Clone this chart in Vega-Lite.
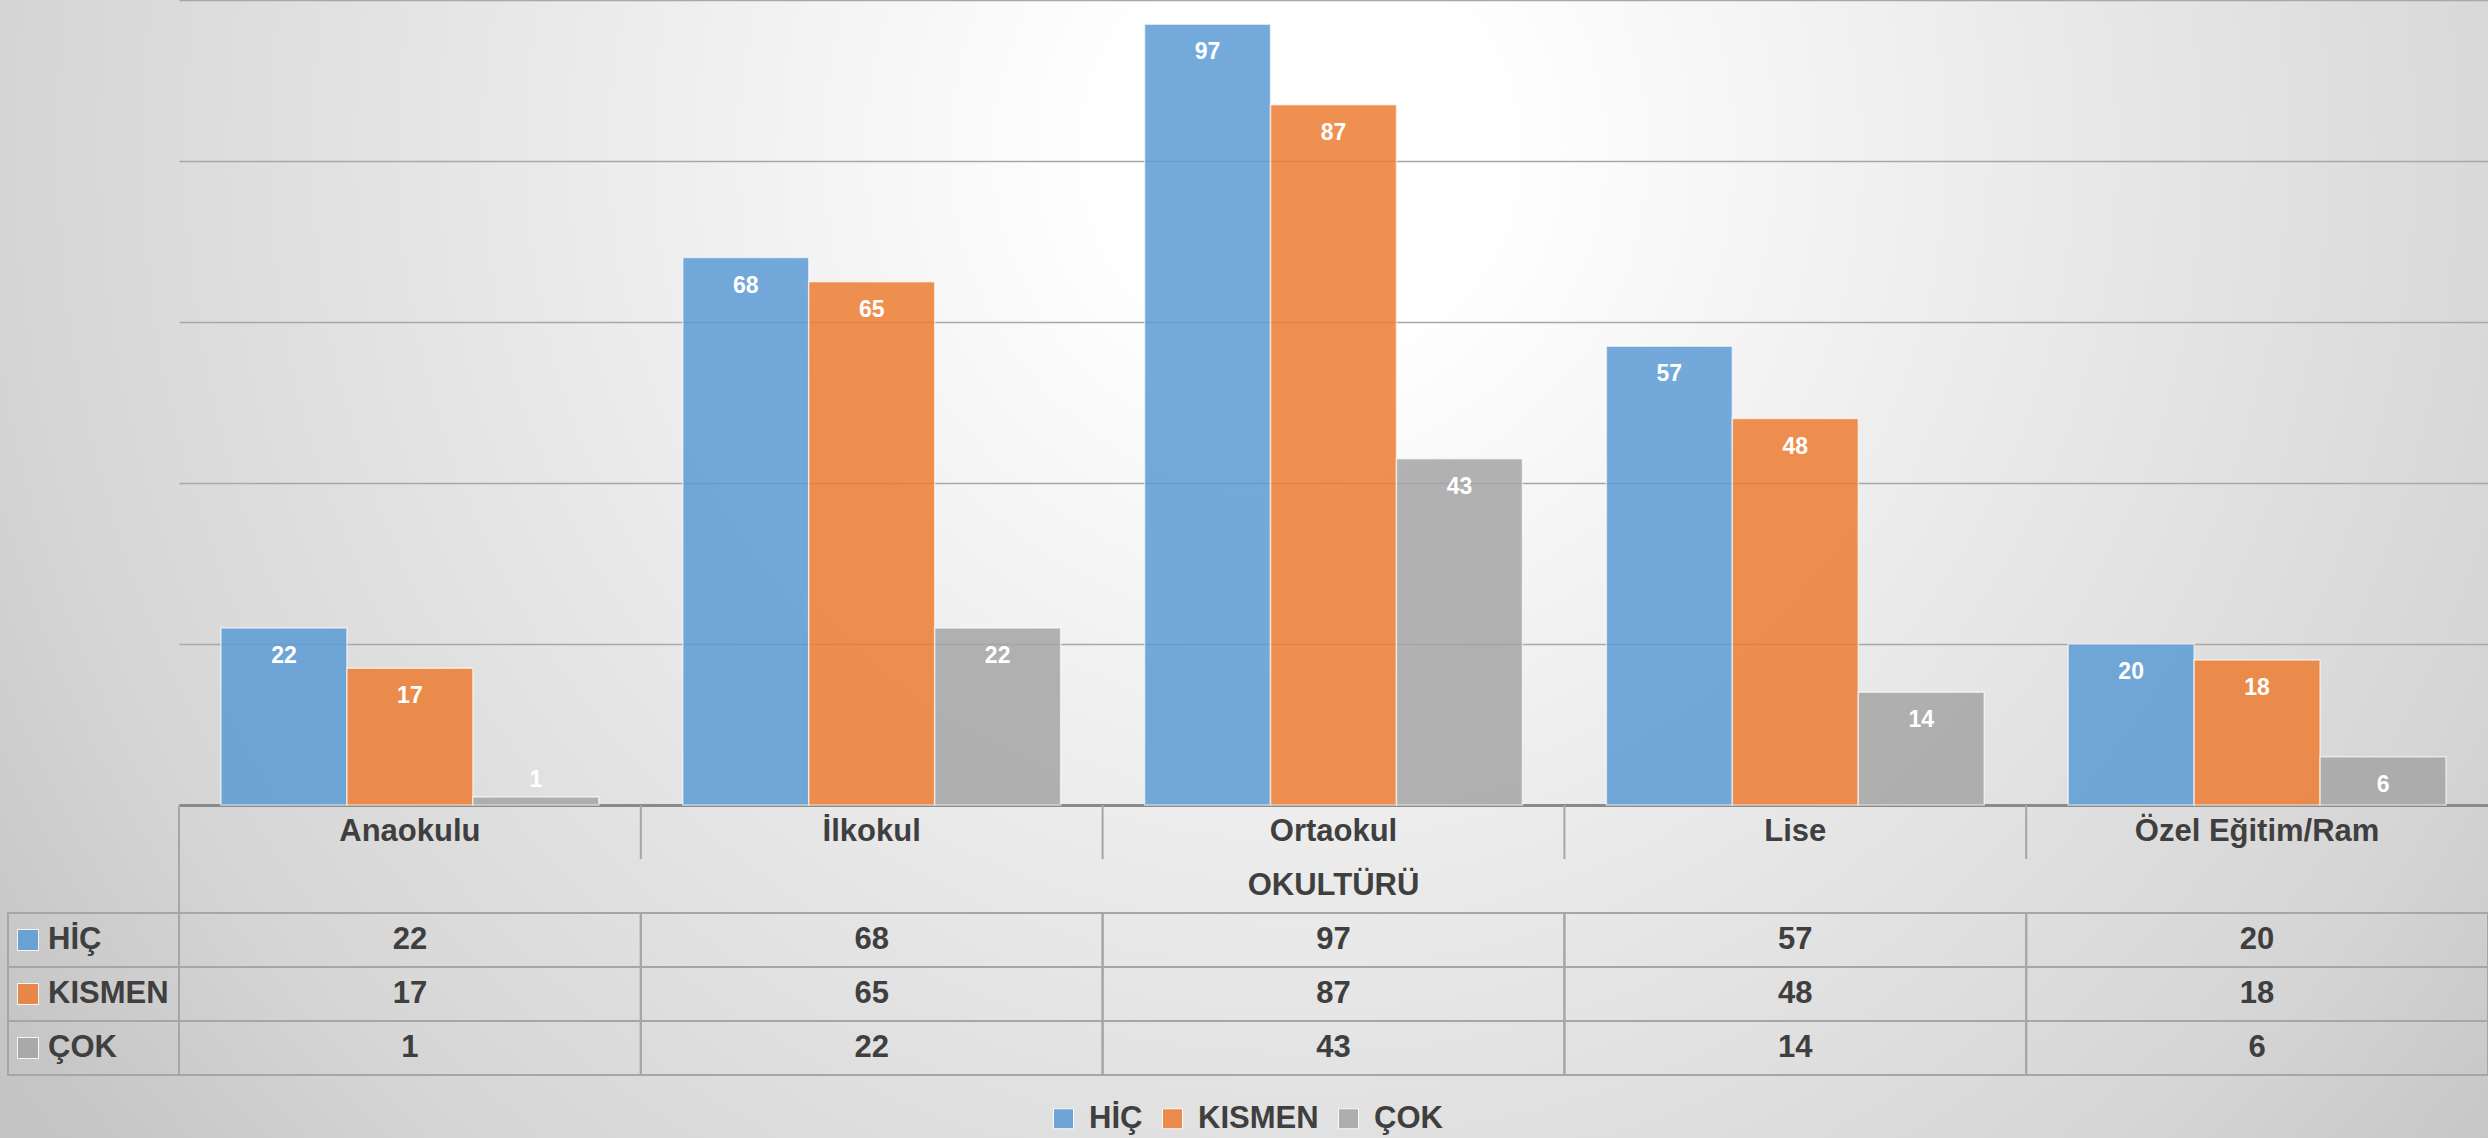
{
  "$schema": "https://vega.github.io/schema/vega-lite/v6.json",
  "width": 2488,
  "height": 1138,
  "padding": 0,
  "autosize": {"type": "none"},
  "background": "#d0d0d0",
  "config": {
    "font": "Liberation Sans",
    "view": {
      "stroke": null,
      "fill": {
        "gradient": "radial",
        "x1": 0.5225, "y1": 0.3316, "r1": 0,
        "x2": 0.5225, "y2": 0.3316, "r2": 0.65,
        "stops": [
          {"offset": 0, "color": "#ffffff"},
          {"offset": 0.12, "color": "#ffffff"},
          {"offset": 0.8, "color": "#d5d5d5"},
          {"offset": 0.96, "color": "#c6c6c6"},
          {"offset": 1, "color": "#c4c4c4"}
        ]
      }
    }
  },
  "datasets": {
    "scores": [
      {"cat": "Anaokulu", "series": "HİÇ", "value": 22},
      {"cat": "Anaokulu", "series": "KISMEN", "value": 17},
      {"cat": "Anaokulu", "series": "ÇOK", "value": 1},
      {"cat": "İlkokul", "series": "HİÇ", "value": 68},
      {"cat": "İlkokul", "series": "KISMEN", "value": 65},
      {"cat": "İlkokul", "series": "ÇOK", "value": 22},
      {"cat": "Ortaokul", "series": "HİÇ", "value": 97},
      {"cat": "Ortaokul", "series": "KISMEN", "value": 87},
      {"cat": "Ortaokul", "series": "ÇOK", "value": 43},
      {"cat": "Lise", "series": "HİÇ", "value": 57},
      {"cat": "Lise", "series": "KISMEN", "value": 48},
      {"cat": "Lise", "series": "ÇOK", "value": 14},
      {"cat": "Özel Eğitim/Ram", "series": "HİÇ", "value": 20},
      {"cat": "Özel Eğitim/Ram", "series": "KISMEN", "value": 18},
      {"cat": "Özel Eğitim/Ram", "series": "ÇOK", "value": 6}
    ],
    "cats": [
      {"cat": "Anaokulu"}, {"cat": "İlkokul"}, {"cat": "Ortaokul"}, {"cat": "Lise"}, {"cat": "Özel Eğitim/Ram"}
    ],
    "series": [{"series": "HİÇ"}, {"series": "KISMEN"}, {"series": "ÇOK"}],
    "single": [{"title": "OKULTÜRÜ"}]
  },
  "layer": [
    {
      "data": {"name": "scores"},
      "encoding": {
        "x": {
          "field": "cat", "type": "nominal",
          "scale": {"type": "band", "domain": ["Anaokulu", "İlkokul", "Ortaokul", "Lise", "Özel Eğitim/Ram"], "range": [179, 2488], "paddingInner": 0, "paddingOuter": 0},
          "axis": null
        },
        "xOffset": {
          "field": "series", "type": "nominal",
          "scale": {"domain": ["HİÇ", "KISMEN", "ÇOK"], "paddingInner": 0, "paddingOuter": 0.3333}
        },
        "y": {
          "field": "value", "type": "quantitative",
          "scale": {"domain": [0, 100], "range": [805, 0], "nice": false, "zero": true},
          "axis": {
            "orient": "left",
            "values": [0, 20, 40, 60, 80, 100],
            "labels": false, "ticks": false, "domain": false, "title": null,
            "grid": true,
            "gridColor": {"condition": {"test": "datum.value === 0", "value": "#8a8a8a"}, "value": "#a8a8a8"},
            "gridWidth": {"condition": {"test": "datum.value === 0", "value": 3}, "value": 1.5}
          }
        }
      },
      "layer": [
        {
          "mark": {"type": "bar", "fillOpacity": 0.85, "stroke": "#ffffff", "strokeOpacity": 0.6, "strokeWidth": 1.5},
          "encoding": {
            "color": {
              "field": "series", "type": "nominal",
              "scale": {"domain": ["HİÇ", "KISMEN", "ÇOK"], "range": ["#5B9BD5", "#ED7D31", "#A5A5A5"]},
              "legend": {
                "orient": "none", "legendX": 1048, "legendY": 1103, "direction": "horizontal",
                "title": null, "padding": 0, "symbolType": "square", "symbolSize": 400,
                "symbolOpacity": 0.85, "symbolStrokeColor": "#ffffff", "symbolStrokeWidth": 1,
                "labelFontSize": 31, "labelFontWeight": "bold", "labelColor": "#3f3f3f",
                "labelOffset": 10, "columnPadding": 14
              }
            }
          }
        },
        {
          "mark": {"type": "text", "color": "#ffffff", "fontSize": 23, "fontWeight": "bold", "baseline": "middle", "dy": {"expr": "datum.value < 5 ? -17 : 28"}},
          "encoding": {"text": {"field": "value", "type": "quantitative"}}
        }
      ]
    },
    {
      "layer": [
        {
          "data": {"name": "scores"},
          "mark": {"type": "rect", "fill": "transparent", "stroke": "#a6a6a6", "strokeWidth": 2},
          "encoding": {
            "x": {"field": "cat", "type": "nominal", "scale": {"type": "band", "domain": ["Anaokulu", "İlkokul", "Ortaokul", "Lise", "Özel Eğitim/Ram"], "range": [179, 2488], "paddingInner": 0, "paddingOuter": 0}, "axis": null},
            "y": {"field": "series", "type": "nominal", "scale": {"type": "band", "domain": ["lab", "title", "HİÇ", "KISMEN", "ÇOK"], "range": [805, 1075], "paddingInner": 0, "paddingOuter": 0}, "axis": null}
          }
        },
        {
          "data": {"name": "scores"},
          "mark": {"type": "text", "fontSize": 31, "fontWeight": "bold", "color": "#3f3f3f", "baseline": "middle"},
          "encoding": {
            "x": {"field": "cat", "type": "nominal"},
            "y": {"field": "series", "type": "nominal"},
            "text": {"field": "value", "type": "quantitative"}
          }
        },
        {
          "data": {"name": "cats"},
          "mark": {"type": "text", "fontSize": 31, "fontWeight": "bold", "color": "#3f3f3f", "baseline": "middle"},
          "encoding": {
            "x": {"field": "cat", "type": "nominal"},
            "y": {"datum": "lab", "type": "nominal"},
            "text": {"field": "cat", "type": "nominal"}
          }
        },
        {
          "data": {"name": "single"},
          "mark": {"type": "text", "fontSize": 31, "fontWeight": "bold", "color": "#3f3f3f", "baseline": "middle"},
          "encoding": {
            "x": {"datum": "Ortaokul", "type": "nominal"},
            "y": {"datum": "title", "type": "nominal"},
            "text": {"field": "title", "type": "nominal"}
          }
        },
        {
          "data": {"name": "cats"},
          "mark": {"type": "rule", "color": "#a6a6a6", "strokeWidth": 2},
          "encoding": {
            "x": {"field": "cat", "type": "nominal", "bandPosition": 0},
            "y": {"datum": "lab", "type": "nominal", "bandPosition": 0},
            "y2": {"datum": "title", "bandPosition": 0}
          }
        },
        {
          "data": {"name": "single"},
          "mark": {"type": "rule", "color": "#a6a6a6", "strokeWidth": 2},
          "encoding": {
            "x": {"datum": "Anaokulu", "type": "nominal", "bandPosition": 0},
            "y": {"datum": "lab", "type": "nominal", "bandPosition": 0},
            "y2": {"datum": "HİÇ", "bandPosition": 0}
          }
        }
      ]
    },
    {
      "data": {"name": "series"},
      "layer": [
        {
          "mark": {"type": "rect", "fill": "transparent", "stroke": "#a6a6a6", "strokeWidth": 2},
          "encoding": {
            "x": {"datum": "hdr", "type": "nominal", "scale": {"type": "band", "domain": ["hdr"], "range": [8, 179], "paddingInner": 0, "paddingOuter": 0}, "axis": null},
            "y": {"field": "series", "type": "nominal", "scale": {"type": "band", "domain": ["lab", "title", "HİÇ", "KISMEN", "ÇOK"], "range": [805, 1075], "paddingInner": 0, "paddingOuter": 0}, "axis": null}
          }
        },
        {
          "mark": {"type": "point", "shape": "square", "size": 441, "filled": true, "opacity": 0.85, "stroke": "#ffffff", "strokeWidth": 1},
          "encoding": {
            "x": {"datum": "hdr", "type": "nominal", "bandPosition": 0.117},
            "y": {"field": "series", "type": "nominal"},
            "color": {
              "field": "series", "type": "nominal",
              "scale": {"domain": ["HİÇ", "KISMEN", "ÇOK"], "range": ["#5B9BD5", "#ED7D31", "#A5A5A5"]},
              "legend": {
                "orient": "none", "legendX": 1048, "legendY": 1103, "direction": "horizontal",
                "title": null, "padding": 0, "symbolType": "square", "symbolSize": 400,
                "symbolOpacity": 0.85, "symbolStrokeColor": "#ffffff", "symbolStrokeWidth": 1,
                "labelFontSize": 31, "labelFontWeight": "bold", "labelColor": "#3f3f3f",
                "labelOffset": 10, "columnPadding": 14
              }
            }
          }
        },
        {
          "mark": {"type": "text", "align": "left", "fontSize": 31, "fontWeight": "bold", "color": "#3f3f3f", "baseline": "middle"},
          "encoding": {
            "x": {"datum": "hdr", "type": "nominal", "bandPosition": 0.234},
            "y": {"field": "series", "type": "nominal"},
            "text": {"field": "series", "type": "nominal"}
          }
        }
      ]
    }
  ],
  "resolve": {"scale": {"x": "independent", "y": "independent"}}
}
